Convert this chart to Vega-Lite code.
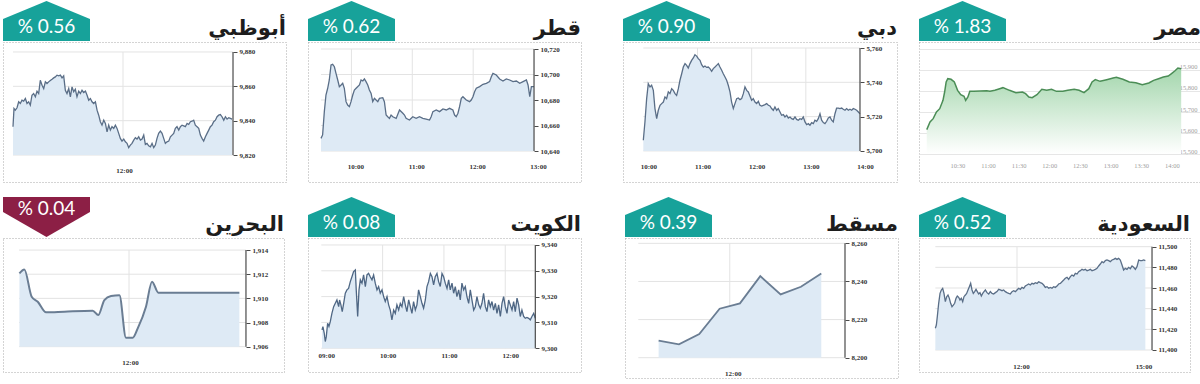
{
"$schema": "https://vega.github.io/schema/vega-lite/v6.json",
"padding": {"left": 2, "top": 0, "right": 0, "bottom": 0},
"background": "white",
"config": {
  "view": {"stroke": null},
  "concat": {"spacing": 0},
  "axis": {"labelFont": "Liberation Serif", "labelFontSize": 7, "labelFontWeight": "bold", "labelColor": "#333333", "domain": false, "grid": false, "labelFlush": false, "labelOverlap": false, "tickColor": "#4a4a4a", "tickSize": 4, "tickCount": 12}
},
"datasets": {
  "markets": [
    {"id": "ad", "name": "أبوظبي", "pct": "% 0.56"},
    {"id": "qa", "name": "قطر", "pct": "% 0.62"},
    {"id": "du", "name": "دبي", "pct": "% 0.90"},
    {"id": "eg", "name": "مصر", "pct": "% 1.83"},
    {"id": "bh", "name": "البحرين", "pct": "% 0.04"},
    {"id": "kw", "name": "الكويت", "pct": "% 0.08"},
    {"id": "ms", "name": "مسقط", "pct": "% 0.39"},
    {"id": "sa", "name": "السعودية", "pct": "% 0.52"}
  ],
  "ad_gy": [{"v": 9820}, {"v": 9840}, {"v": 9860}, {"v": 9880}],
  "ad_gx": [{"t": 720}],
  "qa_gy": [{"v": 10640}, {"v": 10660}, {"v": 10680}, {"v": 10700}, {"v": 10720}],
  "qa_gx": [{"t": 600}, {"t": 660}, {"t": 720}],
  "du_gy": [{"v": 5700}, {"v": 5720}, {"v": 5740}, {"v": 5760}],
  "du_gx": [{"t": 660}, {"t": 720}, {"t": 780}],
  "bh_gy": [{"v": 1906}, {"v": 1908}, {"v": 1910}, {"v": 1912}, {"v": 1914}],
  "bh_gx": [{"t": 720}],
  "kw_gy": [{"v": 9300}, {"v": 9310}, {"v": 9320}, {"v": 9330}, {"v": 9340}],
  "kw_gx": [{"t": 600}, {"t": 660}, {"t": 720}],
  "ms_gy": [{"v": 8200}, {"v": 8220}, {"v": 8240}, {"v": 8260}],
  "ms_gx": [{"t": 720}],
  "sa_gy": [{"v": 11400}, {"v": 11420}, {"v": 11440}, {"v": 11460}, {"v": 11480}, {"v": 11500}],
  "sa_gx": [{"t": 720}],
  "ad": [
    {"t":600,"v":9836.5},{"t":601.1,"v":9847.1},{"t":602.5,"v":9846.1},{"t":604.4,"v":9847.5},{"t":606.2,"v":9851.0},{"t":608.0,"v":9850.0},{"t":609.8,"v":9851.9},{"t":611.6,"v":9851.4},{"t":613.5,"v":9852.9},{"t":615.3,"v":9850.0},{"t":617.1,"v":9851.0},{"t":618.9,"v":9849.0},{"t":620.7,"v":9854.8},{"t":622.5,"v":9855.8},{"t":624.4,"v":9853.9},{"t":626.2,"v":9857.2},{"t":628.0,"v":9855.8},{"t":629.8,"v":9863.5},{"t":631.7,"v":9860.6},{"t":633.5,"v":9858.7},{"t":635.3,"v":9862.6},{"t":637.1,"v":9861.6},{"t":638.9,"v":9862.6},{"t":640.7,"v":9863.4},{"t":642.6,"v":9864.1},{"t":644.4,"v":9864.9},{"t":646.2,"v":9865.5},{"t":648.0,"v":9866.5},{"t":649.9,"v":9866.1},{"t":651.7,"v":9866.5},{"t":653.5,"v":9864.9},{"t":655.3,"v":9866.1},{"t":657.1,"v":9857.7},{"t":658.9,"v":9855.8},{"t":660.8,"v":9858.7},{"t":662.6,"v":9853.9},{"t":664.4,"v":9859.7},{"t":666.2,"v":9856.8},{"t":668.0,"v":9858.3},{"t":669.8,"v":9853.9},{"t":671.7,"v":9857.2},{"t":673.5,"v":9855.8},{"t":675.3,"v":9857.7},{"t":677.1,"v":9856.4},{"t":679.0,"v":9857.2},{"t":680.8,"v":9854.8},{"t":682.6,"v":9851.9},{"t":684.4,"v":9852.9},{"t":686.2,"v":9851.0},{"t":688.0,"v":9850.0},{"t":689.9,"v":9851.0},{"t":691.7,"v":9846.1},{"t":693.5,"v":9843.2},{"t":695.3,"v":9839.4},{"t":697.1,"v":9837.4},{"t":699.0,"v":9840.3},{"t":700.8,"v":9838.4},{"t":702.6,"v":9833.5},{"t":704.4,"v":9837.4},{"t":706.2,"v":9834.5},{"t":708.0,"v":9836.5},{"t":709.9,"v":9835.5},{"t":711.7,"v":9837.4},{"t":713.5,"v":9835.5},{"t":715.3,"v":9832.6},{"t":717.1,"v":9829.7},{"t":718.9,"v":9828.1},{"t":720.8,"v":9829.3},{"t":722.6,"v":9827.7},{"t":724.4,"v":9826.8},{"t":726.2,"v":9824.3},{"t":728.0,"v":9825.8},{"t":729.8,"v":9826.8},{"t":731.7,"v":9828.7},{"t":733.5,"v":9830.1},{"t":735.3,"v":9829.3},{"t":737.1,"v":9830.6},{"t":739.0,"v":9828.7},{"t":740.8,"v":9829.3},{"t":742.6,"v":9831.6},{"t":744.4,"v":9826.2},{"t":746.2,"v":9826.8},{"t":748.0,"v":9825.4},{"t":749.9,"v":9824.8},{"t":751.7,"v":9826.8},{"t":753.5,"v":9824.3},{"t":755.3,"v":9825.8},{"t":757.1,"v":9829.7},{"t":758.9,"v":9832.6},{"t":760.8,"v":9833.9},{"t":762.6,"v":9832.6},{"t":764.4,"v":9829.7},{"t":766.2,"v":9826.8},{"t":768.0,"v":9827.7},{"t":769.9,"v":9828.1},{"t":771.7,"v":9830.6},{"t":773.5,"v":9831.6},{"t":775.3,"v":9832.6},{"t":777.1,"v":9835.5},{"t":778.9,"v":9836.5},{"t":780.8,"v":9834.5},{"t":782.6,"v":9836.5},{"t":784.4,"v":9837.4},{"t":786.2,"v":9837.0},{"t":788.0,"v":9836.5},{"t":789.9,"v":9838.4},{"t":791.7,"v":9837.8},{"t":793.5,"v":9839.4},{"t":795.3,"v":9839.7},{"t":797.1,"v":9840.3},{"t":798.9,"v":9837.4},{"t":800.8,"v":9836.5},{"t":802.6,"v":9835.5},{"t":804.4,"v":9831.6},{"t":806.2,"v":9829.7},{"t":808.0,"v":9828.1},{"t":809.9,"v":9830.6},{"t":811.7,"v":9832.6},{"t":813.5,"v":9834.5},{"t":815.3,"v":9836.5},{"t":817.1,"v":9837.4},{"t":818.9,"v":9839.4},{"t":820.8,"v":9840.3},{"t":822.6,"v":9842.3},{"t":824.4,"v":9843.2},{"t":826.2,"v":9843.6},{"t":828.0,"v":9842.3},{"t":829.9,"v":9840.3},{"t":831.7,"v":9842.3},{"t":833.5,"v":9840.9},{"t":835.3,"v":9841.7},{"t":837.1,"v":9841.3},{"t":839.0,"v":9840.9}
  ],
  "qa": [
    {"t":570,"v":10649.9},{"t":571.6,"v":10652.6},{"t":573.3,"v":10670.9},{"t":574.9,"v":10683.9},{"t":576.6,"v":10689.2},{"t":578.2,"v":10695.7},{"t":579.9,"v":10707.5},{"t":581.5,"v":10708.0},{"t":583.2,"v":10706.1},{"t":584.8,"v":10700.9},{"t":586.5,"v":10695.7},{"t":588.1,"v":10690.5},{"t":589.8,"v":10691.8},{"t":591.4,"v":10693.1},{"t":593.0,"v":10689.2},{"t":594.7,"v":10678.7},{"t":596.3,"v":10676.1},{"t":598.0,"v":10674.8},{"t":599.6,"v":10678.7},{"t":601.3,"v":10683.9},{"t":602.9,"v":10687.8},{"t":604.6,"v":10689.2},{"t":607.9,"v":10691.8},{"t":609.5,"v":10695.7},{"t":611.2,"v":10694.9},{"t":612.8,"v":10696.5},{"t":614.4,"v":10694.4},{"t":616.1,"v":10691.8},{"t":617.7,"v":10687.8},{"t":619.4,"v":10685.2},{"t":621.0,"v":10678.7},{"t":622.7,"v":10681.3},{"t":624.3,"v":10680.0},{"t":626.0,"v":10678.7},{"t":627.6,"v":10681.3},{"t":630.9,"v":10681.8},{"t":632.5,"v":10678.7},{"t":634.2,"v":10668.2},{"t":635.8,"v":10666.9},{"t":637.5,"v":10665.6},{"t":639.1,"v":10668.2},{"t":640.8,"v":10666.9},{"t":644.1,"v":10665.6},{"t":647.4,"v":10672.2},{"t":650.7,"v":10669.6},{"t":652.3,"v":10668.2},{"t":653.9,"v":10665.6},{"t":657.2,"v":10664.3},{"t":660.5,"v":10666.9},{"t":663.8,"v":10665.6},{"t":667.1,"v":10666.9},{"t":670.4,"v":10665.6},{"t":673.7,"v":10665.1},{"t":677.0,"v":10664.3},{"t":678.6,"v":10666.9},{"t":680.3,"v":10670.9},{"t":683.6,"v":10672.2},{"t":686.9,"v":10670.9},{"t":690.2,"v":10673.0},{"t":693.5,"v":10672.2},{"t":696.7,"v":10673.5},{"t":700.0,"v":10672.2},{"t":701.7,"v":10668.2},{"t":703.3,"v":10666.9},{"t":705.0,"v":10669.6},{"t":706.6,"v":10674.8},{"t":708.3,"v":10681.3},{"t":709.9,"v":10682.6},{"t":713.2,"v":10680.0},{"t":716.5,"v":10678.7},{"t":718.1,"v":10680.0},{"t":719.8,"v":10682.6},{"t":721.4,"v":10686.5},{"t":723.1,"v":10689.2},{"t":726.4,"v":10690.5},{"t":729.7,"v":10692.3},{"t":733.0,"v":10693.1},{"t":736.2,"v":10694.4},{"t":737.9,"v":10698.3},{"t":739.5,"v":10700.9},{"t":742.8,"v":10699.6},{"t":746.1,"v":10696.5},{"t":749.4,"v":10694.9},{"t":752.7,"v":10696.5},{"t":756.0,"v":10695.7},{"t":759.3,"v":10694.4},{"t":762.6,"v":10694.9},{"t":765.9,"v":10693.1},{"t":769.2,"v":10694.4},{"t":772.5,"v":10695.7},{"t":774.1,"v":10691.8},{"t":775.8,"v":10682.6},{"t":777.4,"v":10690.5},{"t":780.0,"v":10690.5}
  ],
  "du": [
    {"t":600.0,"v":5706.2},{"t":601.8,"v":5716.9},{"t":603.7,"v":5730.5},{"t":605.5,"v":5739.2},{"t":607.4,"v":5737.3},{"t":609.2,"v":5738.3},{"t":611.1,"v":5735.3},{"t":612.9,"v":5724.7},{"t":614.8,"v":5718.8},{"t":616.6,"v":5723.7},{"t":618.5,"v":5726.6},{"t":620.3,"v":5727.6},{"t":622.2,"v":5728.5},{"t":624.0,"v":5731.5},{"t":625.8,"v":5730.5},{"t":627.7,"v":5734.4},{"t":629.5,"v":5733.4},{"t":631.4,"v":5736.3},{"t":633.2,"v":5735.3},{"t":635.1,"v":5733.4},{"t":636.9,"v":5732.4},{"t":638.8,"v":5736.3},{"t":640.6,"v":5741.2},{"t":642.5,"v":5745.0},{"t":644.3,"v":5748.9},{"t":646.2,"v":5750.9},{"t":648.0,"v":5749.9},{"t":649.8,"v":5748.3},{"t":651.7,"v":5750.9},{"t":653.5,"v":5752.8},{"t":655.4,"v":5754.2},{"t":657.2,"v":5756.1},{"t":659.1,"v":5755.3},{"t":660.9,"v":5753.8},{"t":662.8,"v":5752.8},{"t":664.6,"v":5750.3},{"t":666.5,"v":5748.9},{"t":668.3,"v":5749.5},{"t":670.1,"v":5748.7},{"t":672.0,"v":5748.9},{"t":673.8,"v":5748.0},{"t":675.7,"v":5746.4},{"t":677.5,"v":5748.0},{"t":679.4,"v":5748.9},{"t":681.2,"v":5749.9},{"t":683.1,"v":5750.9},{"t":684.9,"v":5748.9},{"t":686.8,"v":5747.0},{"t":688.6,"v":5745.0},{"t":690.5,"v":5743.1},{"t":692.3,"v":5741.2},{"t":694.1,"v":5738.3},{"t":696.0,"v":5734.4},{"t":697.8,"v":5728.5},{"t":699.7,"v":5724.7},{"t":701.5,"v":5727.6},{"t":703.4,"v":5730.5},{"t":705.2,"v":5730.9},{"t":707.1,"v":5729.9},{"t":708.9,"v":5730.5},{"t":710.8,"v":5733.4},{"t":712.6,"v":5737.3},{"t":714.5,"v":5735.3},{"t":716.3,"v":5734.4},{"t":718.1,"v":5732.0},{"t":720.0,"v":5729.5},{"t":721.8,"v":5730.5},{"t":723.7,"v":5728.5},{"t":725.5,"v":5727.6},{"t":727.4,"v":5728.9},{"t":729.2,"v":5726.6},{"t":731.1,"v":5726.2},{"t":732.9,"v":5726.6},{"t":734.8,"v":5727.0},{"t":736.6,"v":5727.6},{"t":738.5,"v":5726.6},{"t":740.3,"v":5726.2},{"t":742.1,"v":5724.7},{"t":744.0,"v":5723.7},{"t":745.8,"v":5725.6},{"t":747.7,"v":5723.7},{"t":749.5,"v":5724.7},{"t":751.4,"v":5722.7},{"t":753.2,"v":5720.8},{"t":755.1,"v":5721.2},{"t":756.9,"v":5719.8},{"t":758.8,"v":5720.8},{"t":760.6,"v":5719.2},{"t":762.5,"v":5719.8},{"t":764.3,"v":5718.8},{"t":766.1,"v":5718.4},{"t":768.0,"v":5719.8},{"t":769.8,"v":5718.4},{"t":771.7,"v":5717.9},{"t":773.5,"v":5718.8},{"t":775.4,"v":5718.4},{"t":777.2,"v":5719.8},{"t":779.1,"v":5716.9},{"t":780.9,"v":5715.3},{"t":782.8,"v":5715.9},{"t":784.6,"v":5715.0},{"t":786.5,"v":5716.5},{"t":788.3,"v":5715.9},{"t":790.1,"v":5717.9},{"t":792.0,"v":5717.3},{"t":793.8,"v":5718.8},{"t":795.7,"v":5721.7},{"t":797.5,"v":5717.9},{"t":799.4,"v":5716.5},{"t":801.2,"v":5715.9},{"t":803.1,"v":5717.3},{"t":804.9,"v":5719.2},{"t":806.8,"v":5719.8},{"t":808.6,"v":5717.9},{"t":810.4,"v":5716.9},{"t":812.3,"v":5721.7},{"t":814.1,"v":5725.0},{"t":816.0,"v":5725.0},{"t":817.8,"v":5724.7},{"t":819.7,"v":5725.0},{"t":821.5,"v":5724.3},{"t":823.4,"v":5723.7},{"t":825.2,"v":5724.7},{"t":827.1,"v":5723.7},{"t":828.9,"v":5724.3},{"t":830.8,"v":5723.7},{"t":832.6,"v":5724.7},{"t":834.5,"v":5724.3},{"t":836.3,"v":5723.7},{"t":838.2,"v":5722.7},{"t":840.0,"v":5721.7}
  ],
  "eg": [
    {"t":600,"v":15615.9},{"t":603.2,"v":15652.4},{"t":606.3,"v":15668.3},{"t":609.5,"v":15700.0},{"t":612.7,"v":15715.9},{"t":615.9,"v":15755.6},{"t":617.5,"v":15795.2},{"t":619.0,"v":15842.9},{"t":620.6,"v":15858.7},{"t":623.8,"v":15855.6},{"t":627.0,"v":15842.9},{"t":630.2,"v":15803.2},{"t":633.3,"v":15782.5},{"t":636.5,"v":15774.6},{"t":638.1,"v":15755.6},{"t":640.3,"v":15771.4},{"t":642.2,"v":15798.4},{"t":646.0,"v":15798.4},{"t":652.4,"v":15800.0},{"t":658.7,"v":15801.6},{"t":661.9,"v":15798.4},{"t":666.7,"v":15803.2},{"t":671.4,"v":15811.1},{"t":674.6,"v":15815.9},{"t":681.0,"v":15803.2},{"t":687.3,"v":15792.1},{"t":693.7,"v":15795.2},{"t":696.8,"v":15787.3},{"t":700.0,"v":15771.4},{"t":703.2,"v":15768.3},{"t":707.9,"v":15782.5},{"t":712.7,"v":15807.9},{"t":717.5,"v":15803.2},{"t":722.2,"v":15807.9},{"t":727.0,"v":15798.4},{"t":733.3,"v":15798.4},{"t":738.1,"v":15803.2},{"t":744.4,"v":15807.9},{"t":749.2,"v":15803.2},{"t":754.0,"v":15792.1},{"t":758.7,"v":15811.1},{"t":761.9,"v":15842.9},{"t":765.1,"v":15854.0},{"t":769.8,"v":15846.0},{"t":776.2,"v":15854.0},{"t":782.5,"v":15861.9},{"t":785.7,"v":15865.1},{"t":792.1,"v":15855.6},{"t":798.4,"v":15842.9},{"t":804.8,"v":15839.7},{"t":811.1,"v":15830.2},{"t":817.5,"v":15838.1},{"t":822.2,"v":15850.8},{"t":827.0,"v":15858.7},{"t":831.7,"v":15866.7},{"t":836.5,"v":15871.4},{"t":839.7,"v":15882.5},{"t":842.9,"v":15895.2},{"t":846.0,"v":15909.5},{"t":849.2,"v":15906.3}
  ],
  "bh": [
    {"t":600.4,"v":1912.07},{"t":605.8,"v":1912.4},{"t":613.8,"v":1910.14},{"t":620.4,"v":1909.72},{"t":629.5,"v":1908.84},{"t":649.5,"v":1908.9},{"t":680.4,"v":1908.98},{"t":686.5,"v":1908.62},{"t":693.1,"v":1909.86},{"t":700.4,"v":1910.19},{"t":709.5,"v":1910.25},{"t":716.7,"v":1906.74},{"t":724.0,"v":1906.74},{"t":729.5,"v":1907.52},{"t":738.5,"v":1909.31},{"t":745.1,"v":1911.38},{"t":752.0,"v":1910.47},{"t":840.4,"v":1910.47}
  ],
  "kw": [
    {"t":540.7,"v":9307.1},{"t":541.6,"v":9308.4},{"t":542.9,"v":9305.8},{"t":543.9,"v":9302.6},{"t":544.9,"v":9304.5},{"t":546.2,"v":9309.7},{"t":547.5,"v":9308.4},{"t":548.8,"v":9310.3},{"t":550.4,"v":9313.5},{"t":552.1,"v":9316.1},{"t":553.7,"v":9317.4},{"t":555.3,"v":9318.7},{"t":557.0,"v":9316.1},{"t":557.9,"v":9318.7},{"t":559.2,"v":9316.8},{"t":560.5,"v":9314.2},{"t":561.9,"v":9317.4},{"t":563.5,"v":9321.3},{"t":565.1,"v":9322.6},{"t":566.7,"v":9323.2},{"t":568.4,"v":9325.8},{"t":570.0,"v":9327.7},{"t":571.6,"v":9329.7},{"t":573.3,"v":9330.3},{"t":574.2,"v":9322.6},{"t":575.6,"v":9312.3},{"t":576.9,"v":9322.6},{"t":578.2,"v":9326.5},{"t":579.8,"v":9325.2},{"t":581.4,"v":9328.4},{"t":583.1,"v":9323.9},{"t":584.7,"v":9328.4},{"t":586.3,"v":9329.0},{"t":587.9,"v":9327.7},{"t":589.6,"v":9326.5},{"t":591.2,"v":9328.4},{"t":592.8,"v":9325.2},{"t":594.5,"v":9322.6},{"t":596.1,"v":9323.9},{"t":597.7,"v":9321.3},{"t":599.4,"v":9322.6},{"t":601.0,"v":9320.0},{"t":602.6,"v":9318.1},{"t":604.3,"v":9320.0},{"t":605.9,"v":9316.8},{"t":607.5,"v":9314.8},{"t":609.1,"v":9311.0},{"t":610.8,"v":9314.8},{"t":612.4,"v":9313.5},{"t":614.0,"v":9316.8},{"t":615.7,"v":9314.8},{"t":617.3,"v":9317.4},{"t":618.9,"v":9316.1},{"t":620.6,"v":9320.0},{"t":622.2,"v":9316.8},{"t":623.8,"v":9314.2},{"t":625.5,"v":9318.7},{"t":627.1,"v":9316.1},{"t":628.7,"v":9313.5},{"t":630.3,"v":9318.1},{"t":632.0,"v":9314.8},{"t":633.6,"v":9316.8},{"t":635.2,"v":9322.6},{"t":636.9,"v":9320.0},{"t":638.5,"v":9317.4},{"t":640.1,"v":9315.5},{"t":641.8,"v":9318.7},{"t":643.4,"v":9323.9},{"t":645.0,"v":9325.8},{"t":646.7,"v":9329.0},{"t":648.3,"v":9327.7},{"t":649.9,"v":9324.5},{"t":651.5,"v":9327.7},{"t":653.2,"v":9329.0},{"t":654.8,"v":9325.8},{"t":656.4,"v":9323.9},{"t":658.1,"v":9329.0},{"t":659.7,"v":9327.7},{"t":661.3,"v":9325.2},{"t":663.0,"v":9323.2},{"t":664.6,"v":9326.5},{"t":666.2,"v":9322.6},{"t":667.9,"v":9325.2},{"t":669.5,"v":9321.3},{"t":671.1,"v":9323.9},{"t":672.7,"v":9320.0},{"t":674.4,"v":9322.6},{"t":676.0,"v":9318.7},{"t":677.6,"v":9325.2},{"t":679.3,"v":9322.6},{"t":680.9,"v":9323.9},{"t":682.5,"v":9320.0},{"t":684.2,"v":9317.4},{"t":685.8,"v":9322.6},{"t":687.4,"v":9318.7},{"t":689.1,"v":9314.8},{"t":690.7,"v":9316.1},{"t":692.3,"v":9320.0},{"t":694.0,"v":9316.8},{"t":695.6,"v":9315.5},{"t":697.2,"v":9317.4},{"t":698.8,"v":9321.3},{"t":700.5,"v":9316.1},{"t":702.1,"v":9314.2},{"t":703.7,"v":9318.7},{"t":705.4,"v":9316.1},{"t":707.0,"v":9318.1},{"t":708.6,"v":9314.8},{"t":710.3,"v":9317.4},{"t":711.9,"v":9313.5},{"t":713.5,"v":9316.8},{"t":715.2,"v":9312.3},{"t":716.8,"v":9317.4},{"t":718.4,"v":9320.0},{"t":720.0,"v":9316.1},{"t":721.7,"v":9313.5},{"t":723.3,"v":9318.7},{"t":724.9,"v":9316.8},{"t":726.6,"v":9314.8},{"t":728.2,"v":9318.1},{"t":729.8,"v":9314.2},{"t":731.5,"v":9319.4},{"t":733.1,"v":9316.8},{"t":734.7,"v":9312.3},{"t":736.3,"v":9314.8},{"t":738.0,"v":9312.3},{"t":739.6,"v":9311.6},{"t":741.2,"v":9311.9},{"t":742.9,"v":9311.6},{"t":744.5,"v":9311.0},{"t":746.1,"v":9312.3},{"t":747.8,"v":9313.5},{"t":749.4,"v":9311.6}
  ],
  "ms": [
    {"t":615,"v":8208.9},{"t":645,"v":8207.0},{"t":675,"v":8212.4},{"t":705,"v":8225.7},{"t":735,"v":8228.5},{"t":765,"v":8242.8},{"t":795,"v":8233.2},{"t":825,"v":8237.2},{"t":855,"v":8244.2}
  ],
  "sa": [
    {"t":600.0,"v":11421.0},{"t":601.5,"v":11424.2},{"t":602.9,"v":11432.3},{"t":604.9,"v":11445.2},{"t":606.9,"v":11454.8},{"t":608.8,"v":11458.1},{"t":610.8,"v":11459.7},{"t":612.7,"v":11454.8},{"t":614.7,"v":11446.8},{"t":616.7,"v":11451.6},{"t":618.6,"v":11453.2},{"t":620.6,"v":11450.0},{"t":622.5,"v":11445.2},{"t":624.5,"v":11441.9},{"t":626.4,"v":11443.5},{"t":628.4,"v":11445.2},{"t":630.4,"v":11450.0},{"t":632.3,"v":11452.3},{"t":634.3,"v":11451.0},{"t":636.2,"v":11448.4},{"t":638.2,"v":11450.0},{"t":640.2,"v":11446.8},{"t":642.1,"v":11451.6},{"t":644.1,"v":11453.2},{"t":646.0,"v":11454.8},{"t":648.0,"v":11458.1},{"t":650.0,"v":11461.3},{"t":651.9,"v":11464.5},{"t":653.9,"v":11458.1},{"t":655.8,"v":11454.8},{"t":657.8,"v":11456.5},{"t":659.8,"v":11458.7},{"t":661.7,"v":11456.5},{"t":663.7,"v":11454.2},{"t":665.6,"v":11455.5},{"t":667.6,"v":11452.3},{"t":669.6,"v":11454.8},{"t":671.5,"v":11456.5},{"t":673.5,"v":11458.1},{"t":675.9,"v":11455.5},{"t":678.4,"v":11454.2},{"t":680.8,"v":11456.5},{"t":683.3,"v":11454.8},{"t":685.7,"v":11454.2},{"t":688.2,"v":11455.5},{"t":690.6,"v":11456.5},{"t":693.1,"v":11458.7},{"t":695.5,"v":11458.1},{"t":698.0,"v":11457.4},{"t":700.4,"v":11458.1},{"t":702.9,"v":11456.5},{"t":705.3,"v":11455.5},{"t":707.8,"v":11454.8},{"t":710.2,"v":11454.2},{"t":712.7,"v":11456.5},{"t":715.1,"v":11457.4},{"t":717.6,"v":11456.5},{"t":720.0,"v":11458.1},{"t":722.4,"v":11459.7},{"t":724.9,"v":11458.7},{"t":727.3,"v":11460.6},{"t":729.8,"v":11459.7},{"t":732.2,"v":11461.9},{"t":734.7,"v":11462.9},{"t":737.1,"v":11463.9},{"t":739.6,"v":11462.9},{"t":742.0,"v":11464.5},{"t":744.5,"v":11463.9},{"t":746.9,"v":11465.2},{"t":749.4,"v":11464.5},{"t":751.8,"v":11466.1},{"t":754.3,"v":11465.2},{"t":756.7,"v":11464.5},{"t":759.2,"v":11462.9},{"t":761.6,"v":11460.6},{"t":764.1,"v":11461.3},{"t":766.5,"v":11459.7},{"t":769.0,"v":11460.6},{"t":771.4,"v":11459.7},{"t":773.9,"v":11461.3},{"t":776.3,"v":11460.6},{"t":778.8,"v":11461.9},{"t":781.2,"v":11463.9},{"t":783.7,"v":11464.5},{"t":786.1,"v":11466.1},{"t":788.6,"v":11467.7},{"t":791.0,"v":11469.4},{"t":793.5,"v":11470.3},{"t":795.9,"v":11468.4},{"t":798.4,"v":11471.0},{"t":800.8,"v":11472.6},{"t":803.3,"v":11471.6},{"t":805.7,"v":11474.2},{"t":808.2,"v":11473.5},{"t":810.6,"v":11475.8},{"t":813.1,"v":11476.8},{"t":815.5,"v":11478.1},{"t":818.0,"v":11477.4},{"t":820.4,"v":11478.1},{"t":822.9,"v":11476.8},{"t":825.3,"v":11477.4},{"t":827.8,"v":11478.1},{"t":830.2,"v":11476.8},{"t":832.7,"v":11477.4},{"t":835.1,"v":11478.1},{"t":837.6,"v":11479.0},{"t":840.0,"v":11481.3},{"t":842.4,"v":11483.2},{"t":844.9,"v":11485.5},{"t":847.3,"v":11484.5},{"t":849.8,"v":11486.5},{"t":852.2,"v":11487.1},{"t":854.7,"v":11486.5},{"t":857.1,"v":11485.5},{"t":859.6,"v":11487.1},{"t":862.0,"v":11487.7},{"t":864.5,"v":11488.7},{"t":866.9,"v":11487.7},{"t":869.4,"v":11488.7},{"t":871.8,"v":11487.1},{"t":874.3,"v":11482.3},{"t":876.7,"v":11477.4},{"t":879.2,"v":11479.0},{"t":881.6,"v":11478.1},{"t":884.1,"v":11480.0},{"t":886.5,"v":11478.7},{"t":889.0,"v":11481.3},{"t":891.4,"v":11480.0},{"t":893.9,"v":11478.1},{"t":896.3,"v":11480.6},{"t":898.8,"v":11487.1},{"t":901.2,"v":11486.5},{"t":903.7,"v":11486.5},{"t":906.1,"v":11487.1},{"t":908.6,"v":11486.5}
  ]
},
"spacing": 13,
"vconcat": [
 {"hconcat": [
  {"hconcat": [
   {"spacing": -3, "vconcat": [
    {"spacing": 0, "hconcat": [
     {"width": 87, "height": 40, "data": {"name": "markets"}, "transform": [{"filter": "datum.id == 'ad'"}],
      "layer": [
       {"mark": {"type": "point", "shape": "M-1,0.46L-1,-0.046L0,-0.46L1,-0.046L1,0.46Z", "size": 7569, "filled": true, "color": "#17a29a", "opacity": 1}, "encoding": {}},
       {"mark": {"type": "text", "color": "white", "font": "Lato", "fontSize": 19, "dy": 6}, "encoding": {"text": {"field": "pct"}}}
      ]},
     {"width": 196, "height": 40, "data": {"name": "markets"}, "transform": [{"filter": "datum.id == 'ad'"}],
      "mark": {"type": "text", "align": "right", "baseline": "alphabetic", "dy": -6, "font": "DejaVu Sans", "fontSize": 21, "fontWeight": "bold", "color": "#1d1d1d"},
      "encoding": {"text": {"field": "name"}, "x": {"value": "width"}, "y": {"value": "height"}}}
    ]},
    {"width": 283, "height": 140, "view": {"stroke": "#a8a8a8", "strokeDash": [1, 2]},
     "layer": [
      {"data": {"name": "ad_gy"}, "mark": {"type": "rule", "color": "#e3e3e3"},
       "encoding": {
        "y": {"field": "v", "type": "quantitative", "scale": {"domain": [9804.3, 9885.8], "nice": false, "zero": false}, "axis": {"orient": "right", "offset": -53, "values": [9820, 9840, 9860, 9880], "tickCount": 12, "format": ",d", "title": null, "labelPadding": 2}},
        "x": {"datum": 600, "type": "quantitative", "scale": {"domain": [589.1, 897.8], "nice": false, "zero": false}},
        "x2": {"datum": 840}}},
      {"data": {"name": "ad_gx"}, "mark": {"type": "rule", "color": "#e3e3e3"},
       "encoding": {
        "x": {"field": "t", "type": "quantitative", "scale": {"domain": [589.1, 897.8], "nice": false, "zero": false}, "axis": {"orient": "bottom", "offset": -12, "values": [720], "labelExpr": "timeFormat(datetime(2019,0,1,0,datum.value),'%H:%M')", "title": null, "ticks": false, "labelPadding": 0, "labelBaseline": "middle", "labelOffset": 1}},
        "y": {"datum": 9820, "type": "quantitative", "scale": {"domain": [9804.3, 9885.8], "nice": false, "zero": false}},
        "y2": {"datum": 9880}}},
      {"data": {"name": "ad"}, "mark": {"type": "area", "color": "#deeaf5"},
       "encoding": {
        "x": {"field": "t", "type": "quantitative", "scale": {"domain": [589.1, 897.8], "nice": false, "zero": false}},
        "y": {"field": "v", "type": "quantitative", "scale": {"domain": [9804.3, 9885.8], "nice": false, "zero": false}},
        "y2": {"datum": 9820}}},
      {"data": {"name": "ad"}, "mark": {"type": "line", "color": "#5a6e87", "strokeWidth": 1.3},
       "encoding": {
        "x": {"field": "t", "type": "quantitative", "scale": {"domain": [589.1, 897.8], "nice": false, "zero": false}},
        "y": {"field": "v", "type": "quantitative", "scale": {"domain": [9804.3, 9885.8], "nice": false, "zero": false}}}},
      {"data": {"name": "ad_gy"}, "mark": {"type": "rule", "color": "#4a4a4a", "strokeWidth": 1.2},
       "encoding": {
        "x": {"datum": 840, "type": "quantitative", "scale": {"domain": [589.1, 897.8], "nice": false, "zero": false}},
        "y": {"aggregate": "min", "field": "v", "type": "quantitative", "scale": {"domain": [9804.3, 9885.8], "nice": false, "zero": false}},
        "y2": {"aggregate": "max", "field": "v"}}}
     ]}
   ]},
   {"spacing": -3, "vconcat": [
    {"spacing": 0, "hconcat": [
     {"width": 87, "height": 40, "data": {"name": "markets"}, "transform": [{"filter": "datum.id == 'qa'"}],
      "layer": [
       {"mark": {"type": "point", "shape": "M-1,0.46L-1,-0.046L0,-0.46L1,-0.046L1,0.46Z", "size": 7569, "filled": true, "color": "#17a29a", "opacity": 1}, "encoding": {}},
       {"mark": {"type": "text", "color": "white", "font": "Lato", "fontSize": 19, "dy": 6}, "encoding": {"text": {"field": "pct"}}}
      ]},
     {"width": 186, "height": 40, "data": {"name": "markets"}, "transform": [{"filter": "datum.id == 'qa'"}],
      "mark": {"type": "text", "align": "right", "baseline": "alphabetic", "dy": -6, "font": "DejaVu Sans", "fontSize": 21, "fontWeight": "bold", "color": "#1d1d1d"},
      "encoding": {"text": {"field": "name"}, "x": {"value": "width"}, "y": {"value": "height"}}}
    ]},
    {"width": 273, "height": 140, "view": {"stroke": "#a8a8a8", "strokeDash": [1, 2]},
     "layer": [
      {"data": {"name": "qa_gy"}, "mark": {"type": "rule", "color": "#e3e3e3"},
       "encoding": {
        "y": {"field": "v", "type": "quantitative", "scale": {"domain": [10615.7, 10725.5], "nice": false, "zero": false}, "axis": {"orient": "right", "offset": -47, "values": [10640, 10660, 10680, 10700, 10720], "tickCount": 12, "format": ",d", "title": null, "labelPadding": 2}},
        "x": {"datum": 570, "type": "quantitative", "scale": {"domain": [557.2, 826.3], "nice": false, "zero": false}},
        "x2": {"datum": 780}}},
      {"data": {"name": "qa_gx"}, "mark": {"type": "rule", "color": "#e3e3e3"},
       "encoding": {
        "x": {"field": "t", "type": "quantitative", "scale": {"domain": [557.2, 826.3], "nice": false, "zero": false}, "axis": {"orient": "bottom", "offset": -16, "values": [600, 660, 720, 780], "labelExpr": "timeFormat(datetime(2019,0,1,0,datum.value),'%H:%M')", "title": null, "ticks": false, "labelPadding": 0, "labelBaseline": "middle", "labelOffset": 4}},
        "y": {"datum": 10640, "type": "quantitative", "scale": {"domain": [10615.7, 10725.5], "nice": false, "zero": false}},
        "y2": {"datum": 10720}}},
      {"data": {"name": "qa"}, "mark": {"type": "area", "color": "#deeaf5"},
       "encoding": {
        "x": {"field": "t", "type": "quantitative", "scale": {"domain": [557.2, 826.3], "nice": false, "zero": false}},
        "y": {"field": "v", "type": "quantitative", "scale": {"domain": [10615.7, 10725.5], "nice": false, "zero": false}},
        "y2": {"datum": 10640}}},
      {"data": {"name": "qa"}, "mark": {"type": "line", "color": "#5a6e87", "strokeWidth": 1.3},
       "encoding": {
        "x": {"field": "t", "type": "quantitative", "scale": {"domain": [557.2, 826.3], "nice": false, "zero": false}},
        "y": {"field": "v", "type": "quantitative", "scale": {"domain": [10615.7, 10725.5], "nice": false, "zero": false}}}},
      {"data": {"name": "qa_gy"}, "mark": {"type": "rule", "color": "#4a4a4a", "strokeWidth": 1.2},
       "encoding": {
        "x": {"datum": 780, "type": "quantitative", "scale": {"domain": [557.2, 826.3], "nice": false, "zero": false}},
        "y": {"aggregate": "min", "field": "v", "type": "quantitative", "scale": {"domain": [10615.7, 10725.5], "nice": false, "zero": false}},
        "y2": {"aggregate": "max", "field": "v"}}}
     ]}
   ]}
  ], "spacing": 20},
  {"hconcat": [
   {"spacing": -3, "vconcat": [
    {"spacing": 0, "hconcat": [
     {"width": 87, "height": 40, "data": {"name": "markets"}, "transform": [{"filter": "datum.id == 'du'"}],
      "layer": [
       {"mark": {"type": "point", "shape": "M-1,0.46L-1,-0.046L0,-0.46L1,-0.046L1,0.46Z", "size": 7569, "filled": true, "color": "#17a29a", "opacity": 1}, "encoding": {}},
       {"mark": {"type": "text", "color": "white", "font": "Lato", "fontSize": 19, "dy": 6}, "encoding": {"text": {"field": "pct"}}}
      ]},
     {"width": 187, "height": 40, "data": {"name": "markets"}, "transform": [{"filter": "datum.id == 'du'"}],
      "mark": {"type": "text", "align": "right", "baseline": "alphabetic", "dy": -6, "font": "DejaVu Sans", "fontSize": 21, "fontWeight": "bold", "color": "#1d1d1d"},
      "encoding": {"text": {"field": "name"}, "x": {"value": "width"}, "y": {"value": "height"}}}
    ]},
    {"width": 274, "height": 140, "view": {"stroke": "#a8a8a8", "strokeDash": [1, 2]},
     "layer": [
      {"data": {"name": "du_gy"}, "mark": {"type": "rule", "color": "#e3e3e3"},
       "encoding": {
        "y": {"field": "v", "type": "quantitative", "scale": {"domain": [5681.9, 5763.5], "nice": false, "zero": false}, "axis": {"orient": "right", "offset": -37, "values": [5700, 5720, 5740, 5760], "tickCount": 12, "format": ",d", "title": null, "labelPadding": 2}},
        "x": {"datum": 600, "type": "quantitative", "scale": {"domain": [577.5, 881.0], "nice": false, "zero": false}},
        "x2": {"datum": 840}}},
      {"data": {"name": "du_gx"}, "mark": {"type": "rule", "color": "#e3e3e3"},
       "encoding": {
        "x": {"field": "t", "type": "quantitative", "scale": {"domain": [577.5, 881.0], "nice": false, "zero": false}, "axis": {"orient": "bottom", "offset": -16, "values": [600, 660, 720, 780, 840], "labelExpr": "timeFormat(datetime(2019,0,1,0,datum.value),'%H:%M')", "title": null, "ticks": false, "labelPadding": 0, "labelBaseline": "middle", "labelOffset": 5}},
        "y": {"datum": 5700, "type": "quantitative", "scale": {"domain": [5681.9, 5763.5], "nice": false, "zero": false}},
        "y2": {"datum": 5760}}},
      {"data": {"name": "du"}, "mark": {"type": "area", "color": "#deeaf5"},
       "encoding": {
        "x": {"field": "t", "type": "quantitative", "scale": {"domain": [577.5, 881.0], "nice": false, "zero": false}},
        "y": {"field": "v", "type": "quantitative", "scale": {"domain": [5681.9, 5763.5], "nice": false, "zero": false}},
        "y2": {"datum": 5700}}},
      {"data": {"name": "du"}, "mark": {"type": "line", "color": "#5a6e87", "strokeWidth": 1.3},
       "encoding": {
        "x": {"field": "t", "type": "quantitative", "scale": {"domain": [577.5, 881.0], "nice": false, "zero": false}},
        "y": {"field": "v", "type": "quantitative", "scale": {"domain": [5681.9, 5763.5], "nice": false, "zero": false}}}},
      {"data": {"name": "du_gy"}, "mark": {"type": "rule", "color": "#4a4a4a", "strokeWidth": 1.2},
       "encoding": {
        "x": {"datum": 840, "type": "quantitative", "scale": {"domain": [577.5, 881.0], "nice": false, "zero": false}},
        "y": {"aggregate": "min", "field": "v", "type": "quantitative", "scale": {"domain": [5681.9, 5763.5], "nice": false, "zero": false}},
        "y2": {"aggregate": "max", "field": "v"}}}
     ]}
   ]},
   {"spacing": -3, "vconcat": [
    {"spacing": 0, "hconcat": [
     {"width": 87, "height": 40, "data": {"name": "markets"}, "transform": [{"filter": "datum.id == 'eg'"}],
      "layer": [
       {"mark": {"type": "point", "shape": "M-1,0.46L-1,-0.046L0,-0.46L1,-0.046L1,0.46Z", "size": 7569, "filled": true, "color": "#17a29a", "opacity": 1}, "encoding": {}},
       {"mark": {"type": "text", "color": "white", "font": "Lato", "fontSize": 19, "dy": 6}, "encoding": {"text": {"field": "pct"}}}
      ]},
     {"width": 195, "height": 40, "data": {"name": "markets"}, "transform": [{"filter": "datum.id == 'eg'"}],
      "mark": {"type": "text", "align": "right", "baseline": "alphabetic", "dy": -6, "font": "DejaVu Sans", "fontSize": 21, "fontWeight": "bold", "color": "#1d1d1d"},
      "encoding": {"text": {"field": "name"}, "x": {"value": "width"}, "y": {"value": "height"}}}
    ]},
    {"width": 282, "height": 140, "view": {"stroke": "#a8a8a8", "strokeDash": [1, 2]},
     "layer": [
      {"data": {"name": "eg"}, "mark": {"type": "area", "color": {"gradient": "linear", "x1": 0, "y1": 0, "x2": 0, "y2": 1, "stops": [{"offset": 0, "color": "#a3d6ac"}, {"offset": 1, "color": "#ffffff"}]}},
       "encoding": {
        "x": {"field": "t", "type": "quantitative", "scale": {"domain": [592.4, 868.6], "nice": false, "zero": false}, "axis": {"orient": "bottom", "offset": -17, "values": [630, 660, 690, 720, 750, 780, 810, 840], "tickCount": 12, "labelExpr": "timeFormat(datetime(2019,0,1,0,datum.value),'%H:%M')", "title": null, "ticks": false, "labelPadding": 0, "labelBaseline": "middle", "labelColor": "#a0a0a0", "labelFontWeight": "normal", "labelFontSize": 6.5}},
        "y": {"field": "v", "type": "quantitative", "scale": {"domain": [15366.7, 16033.3], "nice": false, "zero": false}, "axis": {"orient": "right", "offset": -4, "values": [15500, 15600, 15700, 15800, 15900, 16000], "tickCount": 12, "labelExpr": "datum.value >= 16000 ? '' : format(datum.value, ',d')", "title": null, "ticks": false, "grid": true, "gridColor": "#e6e6e6", "labelAlign": "right", "labelBaseline": "bottom", "labelPadding": 0, "labelColor": "#a0a0a0", "labelFontWeight": "normal", "labelFontSize": 6.5}},
        "y2": {"datum": 15500}}},
      {"data": {"name": "eg"}, "mark": {"type": "line", "color": "#4b8d56", "strokeWidth": 1.5},
       "encoding": {
        "x": {"field": "t", "type": "quantitative", "scale": {"domain": [592.4, 868.6], "nice": false, "zero": false}},
        "y": {"field": "v", "type": "quantitative", "scale": {"domain": [15366.7, 16033.3], "nice": false, "zero": false}}}}
     ]}
   ]}
  ], "spacing": 20}
 ], "spacing": 40},
 {"hconcat": [
  {"hconcat": [
   {"spacing": -3, "vconcat": [
    {"spacing": 0, "hconcat": [
     {"width": 87, "height": 40, "data": {"name": "markets"}, "transform": [{"filter": "datum.id == 'bh'"}],
      "layer": [
       {"mark": {"type": "point", "shape": "M-1,-0.46L1,-0.46L1,-0.115L0,0.46L-1,-0.115Z", "size": 7569, "filled": true, "color": "#8c1f45", "opacity": 1}, "encoding": {}},
       {"mark": {"type": "text", "color": "white", "font": "Lato", "fontSize": 19, "dy": -8}, "encoding": {"text": {"field": "pct"}}}
      ]},
     {"width": 194, "height": 40, "data": {"name": "markets"}, "transform": [{"filter": "datum.id == 'bh'"}],
      "mark": {"type": "text", "align": "right", "baseline": "alphabetic", "dy": -6, "font": "DejaVu Sans", "fontSize": 21, "fontWeight": "bold", "color": "#1d1d1d"},
      "encoding": {"text": {"field": "name"}, "x": {"value": "width"}, "y": {"value": "height"}}}
    ]},
    {"width": 281, "height": 134, "view": {"stroke": "#a8a8a8", "strokeDash": [1, 2]},
     "layer": [
      {"data": {"name": "bh_gy"}, "mark": {"type": "rule", "color": "#e3e3e3"},
       "encoding": {
        "y": {"field": "v", "type": "quantitative", "scale": {"domain": [1903.9, 1915.0], "nice": false, "zero": false}, "axis": {"orient": "right", "offset": -38, "values": [1906, 1908, 1910, 1912, 1914], "tickCount": 12, "format": ",d", "title": null, "labelPadding": 2}},
        "x": {"datum": 600, "type": "quantitative", "scale": {"domain": [582.5, 889.1], "nice": false, "zero": false}},
        "x2": {"datum": 847.6}}},
      {"data": {"name": "bh_gx"}, "mark": {"type": "rule", "color": "#e3e3e3"},
       "encoding": {
        "x": {"field": "t", "type": "quantitative", "scale": {"domain": [582.5, 889.1], "nice": false, "zero": false}, "axis": {"orient": "bottom", "offset": -10, "values": [720], "labelExpr": "timeFormat(datetime(2019,0,1,0,datum.value),'%H:%M')", "title": null, "ticks": false, "labelPadding": 0, "labelBaseline": "middle", "labelOffset": 1}},
        "y": {"datum": 1906, "type": "quantitative", "scale": {"domain": [1903.9, 1915.0], "nice": false, "zero": false}},
        "y2": {"datum": 1914}}},
      {"data": {"name": "bh"}, "mark": {"type": "area", "color": "#deeaf5", "interpolate": "monotone"},
       "encoding": {
        "x": {"field": "t", "type": "quantitative", "scale": {"domain": [582.5, 889.1], "nice": false, "zero": false}},
        "y": {"field": "v", "type": "quantitative", "scale": {"domain": [1903.9, 1915.0], "nice": false, "zero": false}},
        "y2": {"datum": 1906}}},
      {"data": {"name": "bh"}, "mark": {"type": "line", "color": "#6a7d93", "strokeWidth": 2, "interpolate": "monotone"},
       "encoding": {
        "x": {"field": "t", "type": "quantitative", "scale": {"domain": [582.5, 889.1], "nice": false, "zero": false}},
        "y": {"field": "v", "type": "quantitative", "scale": {"domain": [1903.9, 1915.0], "nice": false, "zero": false}}}},
      {"data": {"name": "bh_gy"}, "mark": {"type": "rule", "color": "#4a4a4a", "strokeWidth": 1.2},
       "encoding": {
        "x": {"datum": 847.6, "type": "quantitative", "scale": {"domain": [582.5, 889.1], "nice": false, "zero": false}},
        "y": {"aggregate": "min", "field": "v", "type": "quantitative", "scale": {"domain": [1903.9, 1915.0], "nice": false, "zero": false}},
        "y2": {"aggregate": "max", "field": "v"}}}
     ]}
   ]},
   {"spacing": -3, "vconcat": [
    {"spacing": 0, "hconcat": [
     {"width": 87, "height": 40, "data": {"name": "markets"}, "transform": [{"filter": "datum.id == 'kw'"}],
      "layer": [
       {"mark": {"type": "point", "shape": "M-1,0.46L-1,-0.046L0,-0.46L1,-0.046L1,0.46Z", "size": 7569, "filled": true, "color": "#17a29a", "opacity": 1}, "encoding": {}},
       {"mark": {"type": "text", "color": "white", "font": "Lato", "fontSize": 19, "dy": 6}, "encoding": {"text": {"field": "pct"}}}
      ]},
     {"width": 186, "height": 40, "data": {"name": "markets"}, "transform": [{"filter": "datum.id == 'kw'"}],
      "mark": {"type": "text", "align": "right", "baseline": "alphabetic", "dy": -6, "font": "DejaVu Sans", "fontSize": 21, "fontWeight": "bold", "color": "#1d1d1d"},
      "encoding": {"text": {"field": "name"}, "x": {"value": "width"}, "y": {"value": "height"}}}
    ]},
    {"width": 273, "height": 134, "view": {"stroke": "#a8a8a8", "strokeDash": [1, 2]},
     "layer": [
      {"data": {"name": "kw_gy"}, "mark": {"type": "rule", "color": "#e3e3e3"},
       "encoding": {
        "y": {"field": "v", "type": "quantitative", "scale": {"domain": [9290.8, 9342.7], "nice": false, "zero": false}, "axis": {"orient": "right", "offset": -46, "values": [9300, 9310, 9320, 9330, 9340], "tickCount": 12, "format": ",d", "title": null, "labelPadding": 2}},
        "x": {"datum": 540, "type": "quantitative", "scale": {"domain": [527.0, 794.1], "nice": false, "zero": false}},
        "x2": {"datum": 749.4}}},
      {"data": {"name": "kw_gx"}, "mark": {"type": "rule", "color": "#e3e3e3"},
       "encoding": {
        "x": {"field": "t", "type": "quantitative", "scale": {"domain": [527.0, 794.1], "nice": false, "zero": false}, "axis": {"orient": "bottom", "offset": -17, "values": [540, 600, 660, 720], "labelExpr": "timeFormat(datetime(2019,0,1,0,datum.value),'%H:%M')", "title": null, "ticks": false, "labelPadding": 0, "labelBaseline": "middle", "labelOffset": 5}},
        "y": {"datum": 9300, "type": "quantitative", "scale": {"domain": [9290.8, 9342.7], "nice": false, "zero": false}},
        "y2": {"datum": 9340}}},
      {"data": {"name": "kw"}, "mark": {"type": "area", "color": "#deeaf5"},
       "encoding": {
        "x": {"field": "t", "type": "quantitative", "scale": {"domain": [527.0, 794.1], "nice": false, "zero": false}},
        "y": {"field": "v", "type": "quantitative", "scale": {"domain": [9290.8, 9342.7], "nice": false, "zero": false}},
        "y2": {"datum": 9300}}},
      {"data": {"name": "kw"}, "mark": {"type": "line", "color": "#4f6784", "strokeWidth": 1.3},
       "encoding": {
        "x": {"field": "t", "type": "quantitative", "scale": {"domain": [527.0, 794.1], "nice": false, "zero": false}},
        "y": {"field": "v", "type": "quantitative", "scale": {"domain": [9290.8, 9342.7], "nice": false, "zero": false}}}},
      {"data": {"name": "kw_gy"}, "mark": {"type": "rule", "color": "#4a4a4a", "strokeWidth": 1.2},
       "encoding": {
        "x": {"datum": 749.4, "type": "quantitative", "scale": {"domain": [527.0, 794.1], "nice": false, "zero": false}},
        "y": {"aggregate": "min", "field": "v", "type": "quantitative", "scale": {"domain": [9290.8, 9342.7], "nice": false, "zero": false}},
        "y2": {"aggregate": "max", "field": "v"}}}
     ]}
   ]}
  ], "spacing": 22},
  {"hconcat": [
   {"spacing": -3, "vconcat": [
    {"spacing": 0, "hconcat": [
     {"width": 87, "height": 40, "data": {"name": "markets"}, "transform": [{"filter": "datum.id == 'ms'"}],
      "layer": [
       {"mark": {"type": "point", "shape": "M-1,0.46L-1,-0.046L0,-0.46L1,-0.046L1,0.46Z", "size": 7569, "filled": true, "color": "#17a29a", "opacity": 1}, "encoding": {}},
       {"mark": {"type": "text", "color": "white", "font": "Lato", "fontSize": 19, "dy": 6}, "encoding": {"text": {"field": "pct"}}}
      ]},
     {"width": 186, "height": 40, "data": {"name": "markets"}, "transform": [{"filter": "datum.id == 'ms'"}],
      "mark": {"type": "text", "align": "right", "baseline": "alphabetic", "dy": -6, "font": "DejaVu Sans", "fontSize": 21, "fontWeight": "bold", "color": "#1d1d1d"},
      "encoding": {"text": {"field": "name"}, "x": {"value": "width"}, "y": {"value": "height"}}}
    ]},
    {"width": 273, "height": 140, "view": {"stroke": "#a8a8a8", "strokeDash": [1, 2]},
     "layer": [
      {"data": {"name": "ms_gy"}, "mark": {"type": "rule", "color": "#e3e3e3"},
       "encoding": {
        "y": {"field": "v", "type": "quantitative", "scale": {"domain": [8189.35, 8262.8], "nice": false, "zero": false}, "axis": {"orient": "right", "offset": -53, "values": [8200, 8220, 8240, 8260], "tickCount": 12, "format": ",d", "title": null, "labelPadding": 2}},
        "x": {"datum": 585, "type": "quantitative", "scale": {"domain": [565.4, 968.2], "nice": false, "zero": false}},
        "x2": {"datum": 890}}},
      {"data": {"name": "ms_gx"}, "mark": {"type": "rule", "color": "#e3e3e3"},
       "encoding": {
        "x": {"field": "t", "type": "quantitative", "scale": {"domain": [565.4, 968.2], "nice": false, "zero": false}, "axis": {"orient": "bottom", "offset": -5, "values": [720], "labelExpr": "timeFormat(datetime(2019,0,1,0,datum.value),'%H:%M')", "title": null, "ticks": false, "labelPadding": 0, "labelBaseline": "middle", "labelOffset": 3}},
        "y": {"datum": 8200, "type": "quantitative", "scale": {"domain": [8189.35, 8262.8], "nice": false, "zero": false}},
        "y2": {"datum": 8260}}},
      {"data": {"name": "ms"}, "mark": {"type": "area", "color": "#deeaf5"},
       "encoding": {
        "x": {"field": "t", "type": "quantitative", "scale": {"domain": [565.4, 968.2], "nice": false, "zero": false}},
        "y": {"field": "v", "type": "quantitative", "scale": {"domain": [8189.35, 8262.8], "nice": false, "zero": false}},
        "y2": {"datum": 8200}}},
      {"data": {"name": "ms"}, "mark": {"type": "line", "color": "#6a7d93", "strokeWidth": 1.8},
       "encoding": {
        "x": {"field": "t", "type": "quantitative", "scale": {"domain": [565.4, 968.2], "nice": false, "zero": false}},
        "y": {"field": "v", "type": "quantitative", "scale": {"domain": [8189.35, 8262.8], "nice": false, "zero": false}}}},
      {"data": {"name": "ms_gy"}, "mark": {"type": "rule", "color": "#4a4a4a", "strokeWidth": 1.2},
       "encoding": {
        "x": {"datum": 890, "type": "quantitative", "scale": {"domain": [565.4, 968.2], "nice": false, "zero": false}},
        "y": {"aggregate": "min", "field": "v", "type": "quantitative", "scale": {"domain": [8189.35, 8262.8], "nice": false, "zero": false}},
        "y2": {"aggregate": "max", "field": "v"}}}
     ]}
   ]},
   {"spacing": -3, "vconcat": [
    {"spacing": 0, "hconcat": [
     {"width": 87, "height": 40, "data": {"name": "markets"}, "transform": [{"filter": "datum.id == 'sa'"}],
      "layer": [
       {"mark": {"type": "point", "shape": "M-1,0.46L-1,-0.046L0,-0.46L1,-0.046L1,0.46Z", "size": 7569, "filled": true, "color": "#17a29a", "opacity": 1}, "encoding": {}},
       {"mark": {"type": "text", "color": "white", "font": "Lato", "fontSize": 19, "dy": 6}, "encoding": {"text": {"field": "pct"}}}
      ]},
     {"width": 184, "height": 40, "data": {"name": "markets"}, "transform": [{"filter": "datum.id == 'sa'"}],
      "mark": {"type": "text", "align": "right", "baseline": "alphabetic", "dy": -6, "font": "DejaVu Sans", "fontSize": 21, "fontWeight": "bold", "color": "#1d1d1d"},
      "encoding": {"text": {"field": "name"}, "x": {"value": "width"}, "y": {"value": "height"}}}
    ]},
    {"width": 271, "height": 134, "view": {"stroke": "#a8a8a8", "strokeDash": [1, 2]},
     "layer": [
      {"data": {"name": "sa_gy"}, "mark": {"type": "rule", "color": "#e3e3e3"},
       "encoding": {
        "y": {"field": "v", "type": "quantitative", "scale": {"domain": [11378.7, 11508.4], "nice": false, "zero": false}, "axis": {"orient": "right", "offset": -38, "values": [11400, 11420, 11440, 11460, 11480, 11500], "tickCount": 12, "format": ",d", "title": null, "labelPadding": 2}},
        "x": {"datum": 600, "type": "quantitative", "scale": {"domain": [576.0, 974.2], "nice": false, "zero": false}},
        "x2": {"datum": 918.4}}},
      {"data": {"name": "sa_gx"}, "mark": {"type": "rule", "color": "#e3e3e3"},
       "encoding": {
        "x": {"field": "t", "type": "quantitative", "scale": {"domain": [576.0, 974.2], "nice": false, "zero": false}, "axis": {"orient": "bottom", "offset": -6, "values": [720, 900], "labelExpr": "timeFormat(datetime(2019,0,1,0,datum.value),'%H:%M')", "title": null, "ticks": false, "labelPadding": 0, "labelBaseline": "middle", "labelOffset": 4}},
        "y": {"datum": 11400, "type": "quantitative", "scale": {"domain": [11378.7, 11508.4], "nice": false, "zero": false}},
        "y2": {"datum": 11500}}},
      {"data": {"name": "sa"}, "mark": {"type": "area", "color": "#deeaf5"},
       "encoding": {
        "x": {"field": "t", "type": "quantitative", "scale": {"domain": [576.0, 974.2], "nice": false, "zero": false}},
        "y": {"field": "v", "type": "quantitative", "scale": {"domain": [11378.7, 11508.4], "nice": false, "zero": false}},
        "y2": {"datum": 11400}}},
      {"data": {"name": "sa"}, "mark": {"type": "line", "color": "#5a6e87", "strokeWidth": 1.3},
       "encoding": {
        "x": {"field": "t", "type": "quantitative", "scale": {"domain": [576.0, 974.2], "nice": false, "zero": false}},
        "y": {"field": "v", "type": "quantitative", "scale": {"domain": [11378.7, 11508.4], "nice": false, "zero": false}}}},
      {"data": {"name": "sa_gy"}, "mark": {"type": "rule", "color": "#4a4a4a", "strokeWidth": 1.2},
       "encoding": {
        "x": {"datum": 918.4, "type": "quantitative", "scale": {"domain": [576.0, 974.2], "nice": false, "zero": false}},
        "y": {"aggregate": "min", "field": "v", "type": "quantitative", "scale": {"domain": [11378.7, 11508.4], "nice": false, "zero": false}},
        "y2": {"aggregate": "max", "field": "v"}}}
     ]}
   ]}
  ], "spacing": 19}
 ], "spacing": 42}
]
}
